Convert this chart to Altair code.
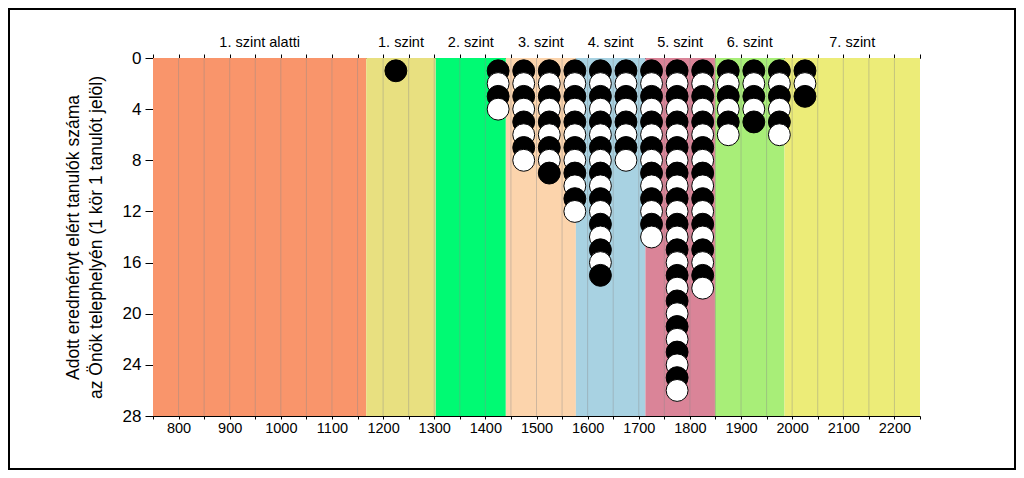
import altair as alt
import pandas as pd

# Level bands (score ranges)
levels = ["1. szint alatti", "1. szint", "2. szint", "3. szint",
          "4. szint", "5. szint", "6. szint", "7. szint"]
band_start = [750, 1167, 1303, 1440, 1577, 1713, 1849, 1985]
band_end = [1167, 1303, 1440, 1577, 1713, 1849, 1985, 2250]
band_colors = ["#F9956B", "#E8E080", "#00FA73", "#FCD4AC",
               "#A8D2E2", "#DA8498", "#A8EE78", "#ECEC78"]

# Student counts per 50-point score bin (bin centres)
bin_center = [1225, 1425, 1475, 1525, 1575, 1625, 1675, 1725,
              1775, 1825, 1875, 1925, 1975, 2025]
bin_count = [1, 4, 8, 9, 12, 17, 8, 14, 26, 18, 6, 5, 6, 3]

x_ticks = list(range(750, 2251, 50))
grid_vals = list(range(800, 2250, 50))
y_ticks = [0, 4, 8, 12, 16, 20, 24, 28]

FONT = "Liberation Sans"

bands = pd.DataFrame({
    "level": levels, "start": band_start, "end": band_end,
    "mid": [(a + b) / 2 for a, b in zip(band_start, band_end)],
})
rows = []
for c, n in zip(bin_center, bin_count):
    for k in range(1, n + 1):
        rows.append({"score": c, "k": k, "fill": "#000000" if k % 2 == 1 else "#ffffff"})
pts = pd.DataFrame(rows)
grid = pd.DataFrame({"g": grid_vals})

xscale = alt.Scale(domain=[750, 2250], nice=False, zero=False)
yscale = alt.Scale(domain=[0, 28], reverse=True, nice=False, zero=True)

band_layer = alt.Chart(bands).mark_rect().encode(
    x=alt.X("start:Q", scale=xscale, title=None,
            axis=alt.Axis(orient="bottom", values=x_ticks, format="d",
                          labelExpr="datum.value % 100 == 0 ? datum.label : ''",
                          grid=False, tickSize=3, labelPadding=2,
                          labelFontSize=14.5, labelFont=FONT, labelColor="black",
                          domainColor="black", tickColor="black",
                          labelFlush=False, labelOverlap=False)),
    x2="end:Q",
    fill=alt.Fill("level:N", scale=alt.Scale(domain=levels, range=band_colors), legend=None),
)

grid_layer = alt.Chart(grid).mark_rule(color="#8a8a8a", opacity=0.4, strokeWidth=1).encode(
    x=alt.X("g:Q", scale=xscale, title=None,
            axis=alt.Axis(orient="top", values=x_ticks, labels=False, grid=False,
                          tickSize=4, domainColor="black", tickColor="black")),
)

point_layer = alt.Chart(pts).mark_point(
    filled=True, size=480, stroke="black", strokeWidth=1, opacity=1, shape="circle"
).encode(
    x=alt.X("score:Q", scale=xscale, axis=None),
    y=alt.Y("k:Q", scale=yscale,
            axis=alt.Axis(values=y_ticks, grid=False, tickSize=8, labelPadding=4,
                          labelFontSize=17, labelFont=FONT, labelColor="black",
                          domainColor="black", tickColor="black",
                          title=["Adott eredményt elért tanulók száma",
                                 "az Önök telephelyén (1 kör 1 tanulót jelöl)"],
                          titleFont=FONT, titleFontSize=17.5, titleFontWeight="normal",
                          titleColor="black", titleLineHeight=23,
                          titleX=-80, titleY=179, titleAngle=270,
                          titleAlign="center", titleBaseline="middle")),
    fill=alt.Fill("fill:N", scale=None),
)

label_layer = alt.Chart(bands).mark_text(
    font=FONT, fontSize=14.5, color="black", baseline="alphabetic", align="center"
).encode(
    x=alt.X("mid:Q", scale=xscale, axis=None),
    y=alt.value(-11),
    text="level:N",
)

frame_layer = alt.Chart(pd.DataFrame({"a": [0]})).mark_rect(
    fillOpacity=0, stroke="black", strokeWidth=2
).encode(
    x=alt.value(-144), x2=alt.value(862), y=alt.value(-49), y2=alt.value(411)
)

chart = alt.layer(
    band_layer, grid_layer, point_layer, label_layer, frame_layer
).resolve_axis(x="independent").properties(
    width=767, height=358,
    autosize=alt.AutoSizeParams(type="none"),
    padding={"left": 145, "top": 50, "right": 96, "bottom": 54},
    background="white",
).configure_view(stroke=None)

chart.save("out.html", embed_options={"renderer": "svg", "actions": False})
